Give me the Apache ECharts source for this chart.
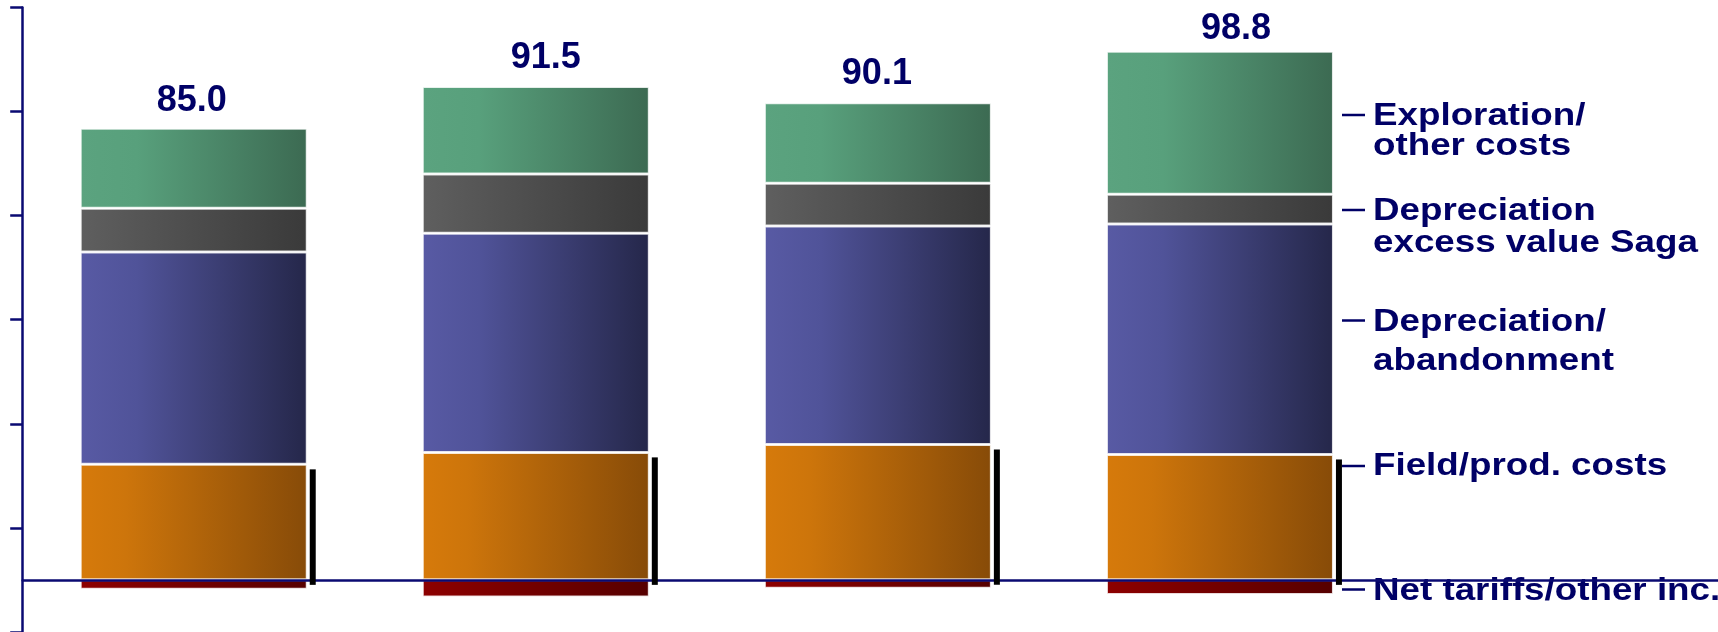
<!DOCTYPE html>
<html>
<head>
<meta charset="utf-8">
<script src="https://cdn.jsdelivr.net/npm/echarts@6/dist/echarts.min.js"></script>
<style>
  html, body { margin: 0; padding: 0; background: #ffffff; }
  #chart { width: 1718px; height: 632px; }
</style>
</head>
<body>
<div id="chart"></div>
<script>
// Cost build-up per period (stacked segments, bottom to top), net tariffs below zero
const categories = ['P1', 'P2', 'P3', 'P4'];
const fieldCosts = [22.2, 24.5, 26.0, 24.1];
const depreciation = [40.8, 42.1, 42.0, 44.3];
const depreciationSaga = [8.4, 11.4, 8.2, 5.7];
const explorationOther = [15.4, 16.8, 15.5, 27.5];
const netTariffs = [-1.8, -3.3, -1.6, -2.8];

const seriesNames = [
  'Field/prod. costs',
  'Depreciation/\nabandonment',
  'Depreciation\nexcess value Saga',
  'Exploration/\nother costs',
  'Net tariffs/other inc.'
];

// Value axis range (ticks every 20 starting at the minimum)
const yMin = -10;
const yMax = 110;
const yInterval = 20;

// Net total shown above each column
const netTotals = categories.map((c, i) =>
  fieldCosts[i] + depreciation[i] + depreciationSaga[i] + explorationOther[i] + netTariffs[i]);

const NAVY = '#000066';
const AXIS_NAVY = '#0a0a72';
const BAR_WIDTH = 227;
const GRID_LEFT = 22.7;
const GRID_TOP = 7.5;
const GRID_HEIGHT = 624.4;
const BAND = 342.07;
// small hand placement of the total labels (px)
const TOTAL_LABEL_NUDGE = [[-2, 1], [10, 0], [-1, 0], [16, 6]];

function grad(stops) {
  return new echarts.graphic.LinearGradient(0, 0, 1, 0,
    stops.map(s => ({ offset: s[0], color: s[1] })));
}

const segmentBorder = { borderColor: 'rgba(255,255,255,0.8)', borderWidth: 1.5 };

function barSeries(name, values, fill, extra) {
  return Object.assign({
    name: name,
    type: 'bar',
    stack: 'total',
    xAxisIndex: 0,
    yAxisIndex: 0,
    barWidth: BAR_WIDTH,
    data: values,
    itemStyle: Object.assign({ color: fill }, segmentBorder),
    emphasis: { disabled: true },
    animation: false
  }, extra || {});
}

const chart = echarts.init(document.getElementById('chart'), null, { renderer: 'canvas' });

// Right-hand annotations: leader line + label for each segment
const legendLayout = [
  { name: seriesNames[3], lineY: 115, textY: 101.4, lineHeight: 30 },
  { name: seriesNames[2], lineY: 210, textY: 195, lineHeight: 32 },
  { name: seriesNames[1], lineY: 320.5, textY: 303, lineHeight: 39 },
  { name: seriesNames[0], lineY: 466, textY: 450.5, lineHeight: 32 },
  { name: seriesNames[4], lineY: 589.5, textY: 575, lineHeight: 32 }
];

const graphicElements = [];
legendLayout.forEach(item => {
  graphicElements.push({
    type: 'line',
    shape: { x1: 1342, y1: item.lineY, x2: 1365, y2: item.lineY },
    style: { stroke: NAVY, lineWidth: 2.5 },
    silent: true
  });
  graphicElements.push({
    type: 'text',
    x: 1373,
    y: item.textY,
    scaleX: 1.16,
    style: {
      text: item.name,
      fontFamily: 'Liberation Sans, Arial, sans-serif',
      fontWeight: 'bold',
      fontSize: 31.7,
      lineHeight: item.lineHeight,
      fill: NAVY,
      align: 'left',
      verticalAlign: 'top'
    },
    silent: true
  });
});

const option = {
  backgroundColor: '#ffffff',
  animation: false,
  grid: [
    { left: GRID_LEFT, top: GRID_TOP, width: BAND * categories.length, height: GRID_HEIGHT },
    { left: GRID_LEFT, top: GRID_TOP, right: 0, height: GRID_HEIGHT }
  ],
  xAxis: [
    {
      type: 'category',
      gridIndex: 0,
      data: categories,
      axisLine: { show: false },
      axisTick: { show: false },
      axisLabel: { show: false },
      splitLine: { show: false }
    },
    {
      // zero line running across the full width, drawn over the columns
      type: 'value',
      gridIndex: 1,
      min: 0,
      max: 1,
      z: 5,
      axisLine: { show: true, onZero: true, lineStyle: { color: AXIS_NAVY, width: 2.5 } },
      axisTick: { show: false },
      axisLabel: { show: false },
      splitLine: { show: false }
    }
  ],
  yAxis: [
    {
      type: 'value',
      gridIndex: 0,
      min: yMin,
      max: yMax,
      interval: yInterval,
      axisLine: { show: true, lineStyle: { color: AXIS_NAVY, width: 2.5 } },
      axisTick: { show: true, length: 12.5, lineStyle: { color: AXIS_NAVY, width: 2.5 } },
      axisLabel: { show: false },
      splitLine: { show: false }
    },
    {
      type: 'value',
      gridIndex: 1,
      min: yMin,
      max: yMax,
      show: false
    }
  ],
  graphic: graphicElements,
  series: [
    barSeries(seriesNames[0], fieldCosts,
      grad([[0, '#d67a0b'], [0.2, '#cd750b'], [1, '#874b08']])),
    barSeries(seriesNames[1], depreciation,
      grad([[0, '#585aa4'], [0.25, '#505399'], [1, '#25274a']])),
    barSeries(seriesNames[2], depreciationSaga,
      grad([[0, '#5f5f5f'], [1, '#3a3a3a']])),
    barSeries(seriesNames[3],
      explorationOther.map((v, i) => ({
        value: v,
        label: { offset: TOTAL_LABEL_NUDGE[i] }
      })),
      grad([[0, '#5ba37f'], [0.25, '#58a07c'], [1, '#3c6a52']]),
      {
        label: {
          show: true,
          position: 'top',
          distance: 10.5,
          formatter: p => netTotals[p.dataIndex].toFixed(1),
          fontFamily: 'Liberation Sans, Arial, sans-serif',
          fontWeight: 'bold',
          fontSize: 36,
          color: NAVY
        }
      }),
    barSeries(seriesNames[4], netTariffs,
      grad([[0, '#8d0000'], [1, '#560000']])),
    {
      // dark edge along the right side of the field/production cost segment
      type: 'custom',
      xAxisIndex: 0,
      yAxisIndex: 0,
      z: 6,
      silent: true,
      data: categories.map((c, i) => [i, fieldCosts[i]]),
      encode: { x: 0, y: 1 },
      renderItem: function (params, api) {
        const top = api.coord([api.value(0), api.value(1)]);
        const base = api.coord([api.value(0), 0]);
        return {
          type: 'rect',
          shape: {
            x: top[0] + BAR_WIDTH / 2 + 2.5,
            y: top[1] + 5,
            width: 6,
            height: base[1] - top[1]
          },
          style: { fill: '#000000' }
        };
      }
    }
  ]
};

chart.setOption(option);
</script>
</body>
</html>
